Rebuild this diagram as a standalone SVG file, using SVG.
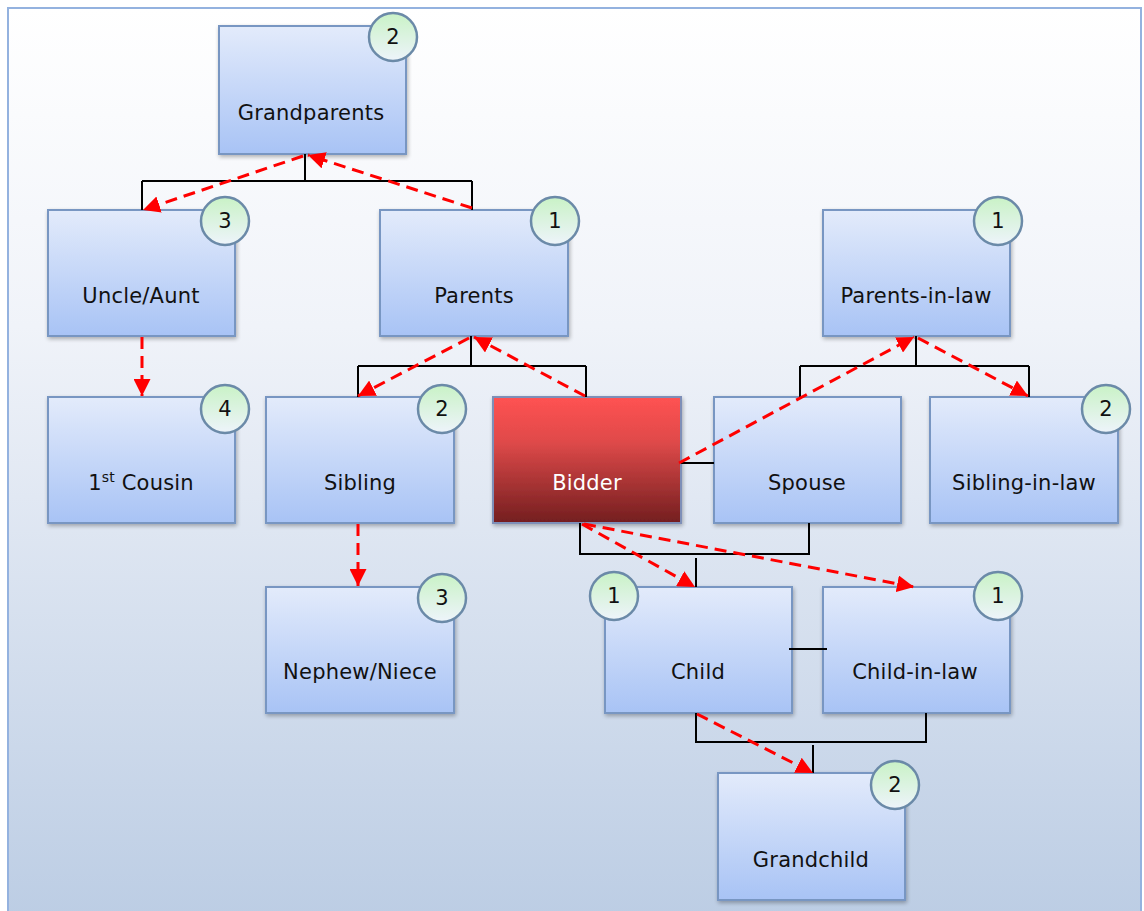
<svg xmlns="http://www.w3.org/2000/svg" width="1144" height="911" viewBox="0 0 1144 911">
  <defs>
    <linearGradient id="bg" x1="0" y1="0" x2="0" y2="1">
      <stop offset="0" stop-color="#ffffff"/>
      <stop offset="0.35" stop-color="#f0f3f9"/>
      <stop offset="1" stop-color="#bccde4"/>
    </linearGradient>
    <linearGradient id="boxFill" x1="0" y1="0" x2="0" y2="1">
      <stop offset="0" stop-color="#e3ebfb"/>
      <stop offset="1" stop-color="#a8c3f5"/>
    </linearGradient>
    <linearGradient id="bidderFill" x1="0" y1="0" x2="0" y2="1">
      <stop offset="0" stop-color="#ff5252"/>
      <stop offset="0.35" stop-color="#e04a4a"/>
      <stop offset="1" stop-color="#731e1f"/>
    </linearGradient>
    <linearGradient id="badgeFill" x1="0" y1="0" x2="0" y2="1">
      <stop offset="0" stop-color="#c9f2c6"/>
      <stop offset="1" stop-color="#eef4fb"/>
    </linearGradient>
    <filter id="shadow" x="-10%" y="-10%" width="125%" height="125%">
      <feGaussianBlur in="SourceAlpha" stdDeviation="2"/>
      <feOffset dx="1" dy="2" result="b"/>
      <feComponentTransfer><feFuncA type="linear" slope="0.3"/></feComponentTransfer>
      <feMerge><feMergeNode/><feMergeNode in="SourceGraphic"/></feMerge>
    </filter>
    <marker id="arrow" viewBox="0 0 10 10" refX="10" refY="5" markerWidth="17" markerHeight="17" markerUnits="userSpaceOnUse" orient="auto">
      <path d="M0,0 L10,5 L0,10 z" fill="#ff0000"/>
    </marker>
    <style>
      .box { fill: url(#boxFill); stroke: #7896c2; stroke-width: 2; filter: url(#shadow); }
      .bidder { fill: url(#bidderFill); stroke: #7e8fb8; stroke-width: 2; filter: url(#shadow); }
      .badge { fill: url(#badgeFill); stroke: #6b8aa8; stroke-width: 2.5; }
      .label { font-family: "DejaVu Sans", Verdana, sans-serif; font-size: 21px; letter-spacing: 0.2px; fill: #111111; text-anchor: middle; }
      .num { font-family: "DejaVu Sans", Verdana, sans-serif; font-size: 21px; fill: #111111; text-anchor: middle; dominant-baseline: central; }
      .tree { fill: none; stroke: #000000; stroke-width: 2; }
      .rel { fill: none; stroke: #ff0000; stroke-width: 3; stroke-dasharray: 12 7; marker-end: url(#arrow); }
    </style>
  </defs>

  <!-- background panel -->
  <rect x="0" y="0" width="1144" height="911" fill="#ffffff"/>
  <rect x="8" y="8" width="1133" height="910" fill="url(#bg)" stroke="#94b2df" stroke-width="2"/>

  <g id="node-grandparents">
    <rect class="box" x="219" y="26" width="187" height="128"/>
    <text class="label" x="311" y="120">Grandparents</text>
    <circle class="badge" cx="393" cy="37" r="24"/>
    <text class="num" x="393" y="37">2</text>
  </g>

  <g id="node-uncle-aunt">
    <rect class="box" x="48" y="210" width="187" height="126"/>
    <text class="label" x="141" y="303">Uncle/Aunt</text>
    <circle class="badge" cx="225" cy="221" r="24"/>
    <text class="num" x="225" y="221">3</text>
  </g>

  <g id="node-parents">
    <rect class="box" x="380" y="210" width="188" height="126"/>
    <text class="label" x="474" y="303">Parents</text>
    <circle class="badge" cx="555" cy="221" r="24"/>
    <text class="num" x="555" y="221">1</text>
  </g>

  <g id="node-parents-in-law">
    <rect class="box" x="823" y="210" width="187" height="126"/>
    <text class="label" x="916" y="303">Parents-in-law</text>
    <circle class="badge" cx="998" cy="221" r="24"/>
    <text class="num" x="998" y="221">1</text>
  </g>

  <g id="node-first-cousin">
    <rect class="box" x="48" y="397" width="187" height="126"/>
    <text class="label" x="141" y="490">1<tspan font-size="14" dy="-8">st</tspan><tspan dy="8"> Cousin</tspan></text>
    <circle class="badge" cx="225" cy="409" r="24"/>
    <text class="num" x="225" y="409">4</text>
  </g>

  <g id="node-sibling">
    <rect class="box" x="266" y="397" width="188" height="126"/>
    <text class="label" x="360" y="490">Sibling</text>
    <circle class="badge" cx="442" cy="409" r="24"/>
    <text class="num" x="442" y="409">2</text>
  </g>

  <g id="node-bidder">
    <rect class="bidder" x="493" y="397" width="188" height="126"/>
    <text class="label" x="587" y="490" style="fill:#ffffff">Bidder</text>
  </g>

  <g id="node-spouse">
    <rect class="box" x="714" y="397" width="187" height="126"/>
    <text class="label" x="807" y="490">Spouse</text>
  </g>

  <g id="node-sibling-in-law">
    <rect class="box" x="930" y="397" width="188" height="126"/>
    <text class="label" x="1024" y="490">Sibling-in-law</text>
    <circle class="badge" cx="1106" cy="409" r="24"/>
    <text class="num" x="1106" y="409">2</text>
  </g>

  <g id="node-nephew-niece">
    <rect class="box" x="266" y="587" width="188" height="126"/>
    <text class="label" x="360" y="679">Nephew/Niece</text>
    <circle class="badge" cx="442" cy="598" r="24"/>
    <text class="num" x="442" y="598">3</text>
  </g>

  <g id="node-child">
    <rect class="box" x="605" y="587" width="187" height="126"/>
    <text class="label" x="698" y="679">Child</text>
    <circle class="badge" cx="614" cy="596" r="24"/>
    <text class="num" x="614" y="596">1</text>
  </g>

  <g id="node-child-in-law">
    <rect class="box" x="823" y="587" width="187" height="126"/>
    <text class="label" x="915" y="679">Child-in-law</text>
    <circle class="badge" cx="998" cy="596" r="24"/>
    <text class="num" x="998" y="596">1</text>
  </g>

  <g id="node-grandchild">
    <rect class="box" x="718" y="773" width="187" height="127"/>
    <text class="label" x="811" y="867">Grandchild</text>
    <circle class="badge" cx="895" cy="785" r="24"/>
    <text class="num" x="895" y="785">2</text>
  </g>

  <g id="connectors">
    <!-- family tree lines -->
    <path class="tree" d="M305,154 V181 M142,181 H472 M142,181 V210 M472,181 V210"/>
    <path class="tree" d="M471,336 V366 M358,366 H586 M358,366 V397 M586,366 V397"/>
    <path class="tree" d="M916,336 V366 M800,366 H1029 M800,366 V397 M1029,366 V397"/>
    <path class="tree" d="M681,463 H714"/>
    <path class="tree" d="M580,523 V554 H809 V523 M696,558 V587"/>
    <path class="tree" d="M789,649 H827"/>
    <path class="tree" d="M696,713 V742 H926 V713 M813,745 V773"/>

    <!-- relationship arrows -->
    <path class="rel" d="M472,208 L308,155"/>
    <path class="rel" d="M303,156 L143,210"/>
    <path class="rel" d="M142,337 V396"/>
    <path class="rel" d="M585,396 L474,337"/>
    <path class="rel" d="M469,338 L358,396"/>
    <path class="rel" d="M358,524 V586"/>
    <path class="rel" d="M679,463 L914,337"/>
    <path class="rel" d="M918,338 L1028,396"/>
    <path class="rel" d="M582,524 L695,587"/>
    <path class="rel" d="M584,524 L914,587"/>
    <path class="rel" d="M697,714 L813,773"/>
  </g>
</svg>
